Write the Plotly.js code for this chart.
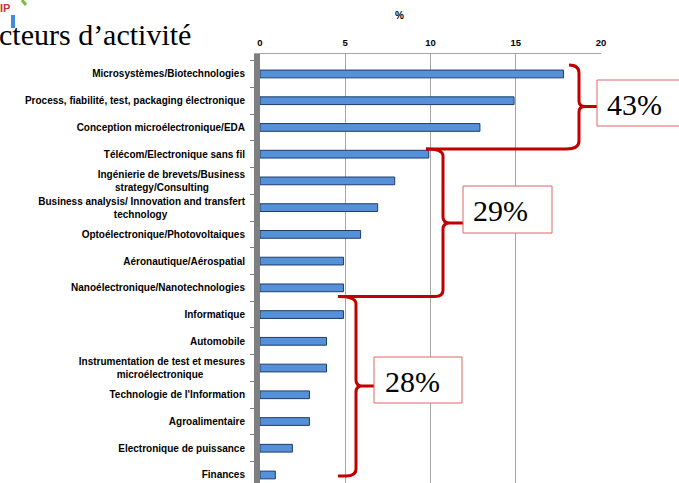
<!DOCTYPE html>
<html><head><meta charset="utf-8">
<script src="https://cdn.plot.ly/plotly-3.0.1.min.js"></script>
<style>html,body{margin:0;padding:0;background:#fff}#chart{width:679px;height:483px}</style>
</head><body><div id="chart"></div>
<script>
const categories = [
  "Microsystèmes/Biotechnologies",
  "Process, fiabilité, test, packaging électronique",
  "Conception microélectronique/EDA",
  "Télécom/Electronique sans fil",
  "Ingénierie de brevets/Business strategy/Consulting",
  "Business analysis/ Innovation and transfert technology",
  "Optoélectronique/Photovoltaiques",
  "Aéronautique/Aérospatial",
  "Nanoélectronique/Nanotechnologies",
  "Informatique",
  "Automobile",
  "Instrumentation de test et mesures microélectronique",
  "Technologie de l'Information",
  "Agroalimentaire",
  "Electronique de puissance",
  "Finances"
];
const NB = "\u00a0";
const tickLabels = [
  "Microsystèmes/Biotechnologies",
  "Process, fiabilité, test, packaging électronique",
  "Conception microélectronique/EDA",
  "Télécom/Electronique sans fil",
  "Ingénierie de brevets/Business<br>strategy/Consulting" + NB.repeat(13),
  "Business analysis/ Innovation and transfert<br>technology" + NB.repeat(28),
  "Optoélectronique/Photovoltaiques",
  "Aéronautique/Aérospatial",
  "Nanoélectronique/Nanotechnologies",
  "Informatique",
  "Automobile",
  "Instrumentation de test et mesures<br>microélectronique" + NB.repeat(15),
  "Technologie de l'Information",
  "Agroalimentaire",
  "Electronique de puissance",
  "Finances"
];
const values = [17.8, 14.9, 12.9, 9.9, 7.9, 6.9, 5.9, 4.9, 4.9, 4.9, 3.9, 3.9, 2.9, 2.9, 1.9, 0.9];
const xTicks = [0, 5, 10, 15, 20];
const groupLabels = ["43%", "29%", "28%"];

// pixel -> paper helpers for the decorative braces / boxes
const W = 679, H = 483, ML = 260, MR = 78, MT = 54, MB = 0;
const PW = W - ML - MR, PH = H - MT - MB;
const px = x => (x - ML) / PW;
const py = y => (H - MB - y) / PH;
function path(cmds) {
  return cmds.map(c => c[0] + " " + c.slice(1).reduce((a, v, i) => {
    a.push(i % 2 === 0 ? px(v).toFixed(5) : py(v).toFixed(5)); return a;
  }, []).join(" ")).join(" ");
}
const red = "#c00000";
const braces = [
  [["M",569,65],["Q",579,65,579,73],["L",579,101],["Q",579,106.5,585,106.5],["L",597,106.5],
   ["M",585,106.5],["Q",579,106.5,579,112],["L",579,141],["Q",579,149,566,149],["L",426,149]],
  [["M",426,149],["Q",443,149,443,156],["L",443,217],["Q",443,223,450,223],["L",463,223],
   ["M",450,223],["Q",443,223,443,229],["L",443,290],["Q",443,296.5,435,296.5],["L",338,296.5]],
  [["M",338,296.5],["Q",356,296.5,356,304],["L",356,380],["Q",356,386,362,386],["L",374,386],
   ["M",362,386],["Q",356,386,356,392],["L",356,469],["Q",356,476,346,476],["L",338,476]]
];
const boxes = [[597, 80, 690, 126], [463, 186, 552, 233], [374, 357, 462, 403]];
const boxText = [[634, 104], [500, 210], [412, 381]];

const shapes = [];
braces.forEach(b => shapes.push({type: "path", xref: "paper", yref: "paper", path: path(b),
  line: {color: red, width: 3}, layer: "above"}));
boxes.forEach(b => shapes.push({type: "rect", xref: "paper", yref: "paper",
  x0: px(b[0]), x1: px(b[2]), y0: py(b[3]), y1: py(b[1]),
  fillcolor: "#ffffff", line: {color: "#e06666", width: 1}, layer: "above"}));
// logo fragments
shapes.push({type: "rect", xref: "paper", yref: "paper", x0: px(11), x1: px(15), y0: py(28), y1: py(15),
  fillcolor: "#3d8ed6", line: {width: 0}});
shapes.push({type: "line", xref: "paper", yref: "paper", x0: px(22), x1: px(26), y0: py(0), y1: py(5),
  line: {color: "#7dbb3a", width: 3}});

const annotations = [];
groupLabels.forEach((t, i) => annotations.push({xref: "paper", yref: "paper",
  x: px(boxText[i][0]), y: py(boxText[i][1]), xanchor: "center", yanchor: "middle", showarrow: false,
  text: t, font: {family: "Liberation Serif, Times New Roman, serif", size: 30, color: "#000"}}));
annotations.push({xref: "paper", yref: "paper", x: px(-3), y: py(34), xanchor: "left", yanchor: "middle",
  showarrow: false, text: "cteurs d’activité",
  font: {family: "Liberation Serif, Times New Roman, serif", size: 30, color: "#000"}});
annotations.push({xref: "paper", yref: "paper", x: px(-2), y: py(8), xanchor: "left", yanchor: "middle",
  showarrow: false, text: "IP", font: {family: "Liberation Sans, Arial", size: 11, color: "#c83838", weight: 700}});
annotations.push({xref: "paper", yref: "paper", x: px(399), y: py(15), xanchor: "center", yanchor: "middle",
  showarrow: false, text: "%", font: {family: "Liberation Sans, Arial", size: 10, color: "#000", weight: 700}});

const trace = {
  type: "bar", orientation: "h", y: categories, x: values, width: 0.29,
  marker: {color: "#5590d8", line: {color: "#1f3d6b", width: 1}},
  hoverinfo: "x+y"
};

const layout = {
  width: W, height: H, margin: {l: ML, r: MR, t: MT, b: MB, pad: 0},
  paper_bgcolor: "#fff", plot_bgcolor: "#fff", showlegend: false,
  xaxis: {side: "top", range: [0, 20], tickvals: xTicks, ticktext: xTicks.map(String),
    showgrid: true, gridcolor: "#a6a6a6", gridwidth: 1, zeroline: false,
    showline: true, linecolor: "#a6a6a6", linewidth: 1, ticks: "", ticklabelstandoff: 3,
    tickfont: {family: "Liberation Sans, Arial", size: 9.5, color: "#000", weight: 700}},
  yaxis: {type: "category", range: [15.3, -0.747], tickvals: categories, ticktext: tickLabels,
    showgrid: false, zeroline: false, showline: true, linecolor: "#7f7f7f", linewidth: 6,
    ticks: "outside", tickson: "boundaries", ticklen: 4, tickcolor: "#7f7f7f", tickwidth: 1,
    ticklabelstandoff: 7,
    tickfont: {family: "Liberation Sans, Arial", size: 10, color: "#000", weight: 700}},
  shapes: shapes, annotations: annotations
};
Plotly.newPlot("chart", [trace], layout, {displayModeBar: false, staticPlot: true});
</script></body></html>
